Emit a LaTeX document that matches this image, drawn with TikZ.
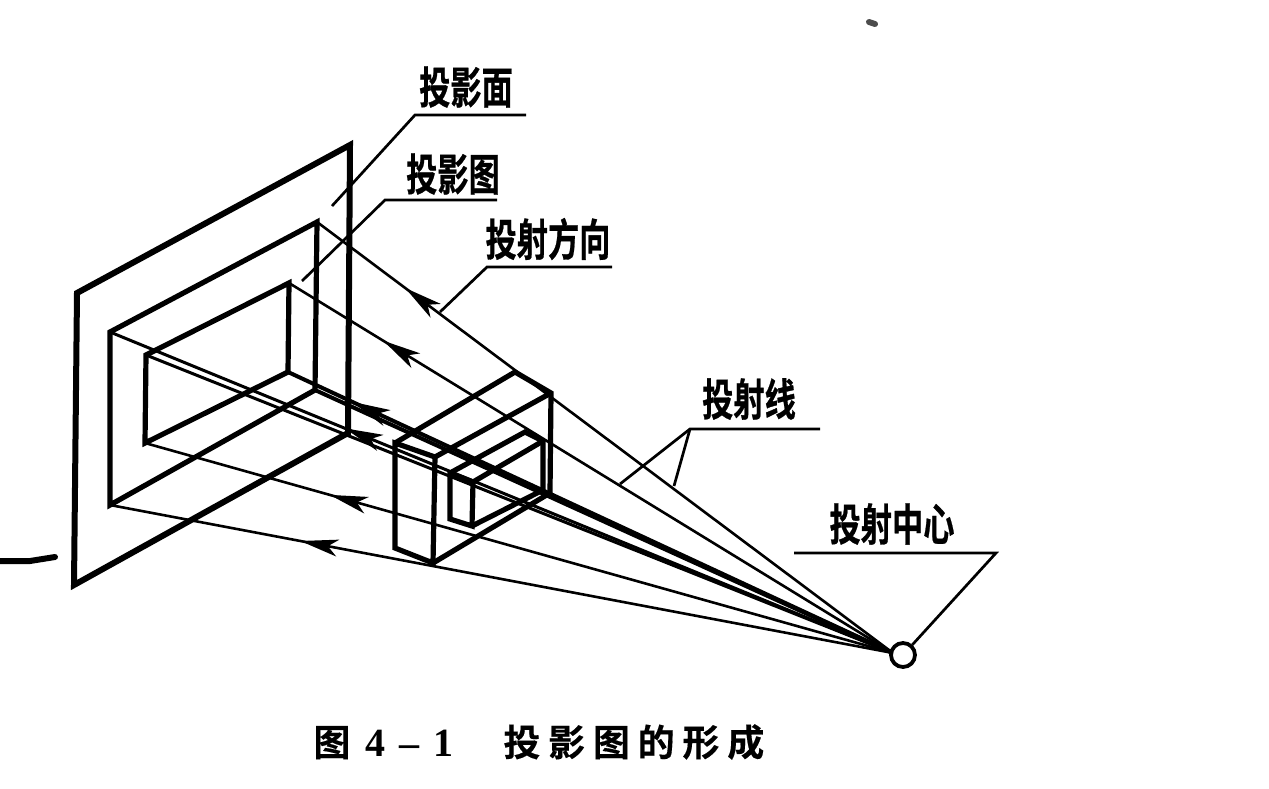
\documentclass[tikz,border=0pt]{standalone}
\usepackage{fontspec}
\usepackage{graphicx}
\newfontfamily\cnbold[FakeBold=0.7]{Noto Sans CJK SC Bold}
\newfontfamily\cntitle[LetterSpace=21,FakeBold=0.3]{Noto Sans CJK SC Bold}
\newfontfamily\capnum{Liberation Serif Bold}
\newcommand{\tallcn}[1]{\scalebox{.71}[1]{\cnbold\fontsize{22pt}{22pt}\selectfont #1}}
\usetikzlibrary{arrows.meta,decorations.markings}

\tikzset{
  plane/.style={line width=3pt,line join=miter},
  solid edge/.style={line width=2.6pt,line join=miter},
  leader/.style={line width=1.35pt,line join=miter},
  ray/.style={line width=1.3pt},
  rayarrow/.style={ray,postaction={decorate},decoration={markings,
    mark=at position #1 with {\arrow{Stealth[length=19pt,width=8.5pt,inset=5pt]}}}},
  tag/.style={inner sep=0pt}
}

\begin{document}
\begin{tikzpicture}[x=0.5pt,y=-0.5pt]
  \useasboundingbox (0,0) rectangle (1269,788);

  \coordinate (apex) at (893,653);
  \coordinate (outerTL) at (110,332);
  \coordinate (outerTR) at (317,222);
  \coordinate (outerBR) at (315,390);
  \coordinate (outerBL) at (110,505);
  \coordinate (innerTL) at (146,355);
  \coordinate (innerTR) at (289,283);
  \coordinate (innerBR) at (288,372);
  \coordinate (innerBL) at (145,443);

  \draw[plane] (77,293) -- (350,145) -- (348,433) -- (74,585) -- cycle;
  \draw[solid edge] (outerTL) -- (outerTR) -- (outerBR) -- (outerBL) -- cycle;
  \draw[solid edge] (innerTL) -- (innerTR) -- (innerBR) -- (innerBL) -- cycle;

  \draw[rayarrow=.847] (apex) -- (outerTR);
  \draw[rayarrow=.844] (apex) -- (innerTR);
  \draw[rayarrow=.70,line width=1.5pt] (apex) -- (outerTL);
  \draw[ray,line width=1.5pt] (apex) -- (innerTL);
  \draw[ray,line width=2pt] (apex) -- (outerBR);
  \draw[rayarrow=.894,line width=2pt] (apex) -- (innerBR);
  \draw[rayarrow=.753] (apex) -- (innerBL);
  \draw[rayarrow=.757] (apex) -- (outerBL);

  \coordinate (frontTL) at (395,443);
  \coordinate (frontTR) at (435,457);
  \coordinate (frontBR) at (433,563);
  \coordinate (frontBL) at (395,548);
  \coordinate (backTL) at (515,372);
  \coordinate (backTR) at (551,393);
  \coordinate (backBR) at (550,493);
  \draw[solid edge] (frontTL) -- (frontTR) -- (frontBR) -- (frontBL) -- cycle;
  \draw[solid edge] (frontTL) -- (backTL) -- (backTR) -- (backBR) -- (frontBR);
  \draw[solid edge] (frontTR) -- (backTR);

  \coordinate (notchTL) at (450,473);
  \coordinate (notchTR) at (473,482);
  \coordinate (notchBR) at (472,526);
  \coordinate (notchBL) at (450,519);
  \coordinate (notchBackL) at (525,432);
  \coordinate (notchBackR) at (543,441);
  \coordinate (notchBackB) at (543,490);
  \draw[solid edge] (notchTL) -- (notchTR) -- (notchBR) -- (notchBL) -- cycle;
  \draw[solid edge] (notchTL) -- (notchBackL) -- (notchBackR) -- (notchBackB) -- (notchBR);
  \draw[solid edge] (notchTR) -- (notchBackR);

  \node[tag] (planeTag) at (466,87) {\tallcn{投影面}};
  \draw[leader] (526,115) -- (415,115) -- (332,206);
  \node[tag] (imageTag) at (453,174) {\tallcn{投影图}};
  \draw[leader] (497,200) -- (385,200) -- (302,281);
  \node[tag] (directionTag) at (548,239) {\tallcn{投射方向}};
  \draw[leader] (612,267) -- (487,267) -- (440,312);
  \node[tag] (rayTag) at (749,399) {\tallcn{投射线}};
  \draw[leader] (820,429) -- (690,429) -- (620,484);
  \draw[leader] (690,429) -- (674,486);
  \node[tag] (centerTag) at (892,524) {\tallcn{投射中心}};
  \node[draw,circle,fill=white,line width=1.9pt,minimum size=12pt,inner sep=0pt] (center) at (903,655) {};
  \draw[leader] (794,553) -- (996,553) -- (center);

  \node[tag,anchor=west] (caption) at (313,742) {\fontsize{18.5pt}{18.5pt}\selectfont\cntitle 图\hspace{7.5pt}{\capnum\fontsize{20pt}{20pt}\selectfont 4\hspace{7pt}–\hspace{7pt}1}\hspace{25pt}投影图的形成};

  \draw[line width=3pt,line cap=round] (0,561) -- (30,561) -- (55,557);
  \draw[line width=3pt,line cap=round,black!70] (869,22) -- (875,24);
\end{tikzpicture}
\end{document}
